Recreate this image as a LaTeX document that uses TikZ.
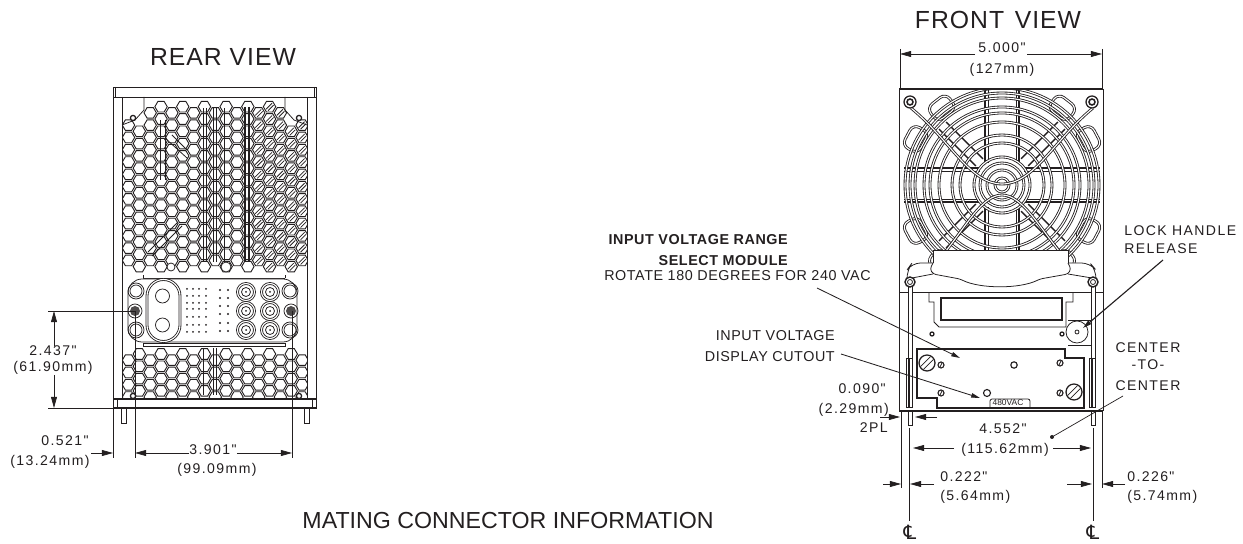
\documentclass[tikz,border=0pt]{standalone}
\usepackage{fontspec}
\setmainfont{Liberation Sans}
\newfontfamily\dimfont[LetterSpace=10]{Liberation Sans}
\newfontfamily\capfont[LetterSpace=4]{Liberation Sans}
\newfontfamily\clfont{DejaVu Sans}
\usetikzlibrary{arrows.meta}
\definecolor{ink}{HTML}{231F20}
\tikzset{
	part/.style={draw=ink, line width=0.55pt},
	heavy/.style={draw=ink, line width=1.1pt},
	ring/.style={draw=ink, line width=0.6pt, double=white, double distance=0.8pt},
	dimtext/.style={inner sep=0pt, text=ink, font=\fontsize{10}{12}\dimfont},
	notetext/.style={inner sep=0pt, text=ink, font=\fontsize{10.2}{12}\capfont},
	viewtext/.style={inner sep=0pt, text=ink, font=\fontsize{17.6}{20}\capfont},
	noteb/.style={inner sep=0pt, text=ink, font=\fontsize{10.2}{12}\bfseries\capfont},
	extline/.style={draw=ink, line width=0.5pt},
	dimarrow/.style={draw=ink, line width=0.5pt, -{Stealth[length=2.8mm,width=1.5mm,inset=0pt]}},
	leader/.style={draw=ink, line width=0.6pt, -{Stealth[length=2.2mm,width=1.1mm,inset=0pt]}},
}
\newcommand{\hexcell}[2]{\draw[draw=ink, line width=0.65pt] (#1,#2) ++(6.2,0) -- ++(-3.1,5.3) -- ++(-6.2,0) -- ++(-3.1,-5.3) -- ++(3.1,-5.3) -- ++(6.2,0) -- cycle;}
\begin{document}
\begin{tikzpicture}[x=0.25mm,y=-0.25mm]
\useasboundingbox (0,0) rectangle (1243,544);

% Rear view frame
\node[viewtext] (rearTitle) at (223,57) {REAR VIEW};
\draw[part] (113,87) rectangle (316,408);
\draw[part] (115,87) -- (115,97) (314,87) -- (314,97);
\draw[part] (113,97) -- (316,97);
\draw[part] (122,97) -- (122,399) (307,97) -- (307,399);
\draw[heavy] (113,399) -- (316,399);
\draw[heavy] (113,408) -- (316,408);
\draw[part] (117,399) -- (117,408) (312,399) -- (312,408);
\draw[part] (121,408) rectangle (126,423);
\draw[part] (304,408) rectangle (309,423);
\draw[part] (144,97) -- (144,110) -- (135,120) -- (122,125);
\draw[part] (285,97) -- (285,110) -- (294,120) -- (307,125);

% Rear grille, upper
\begin{scope}
	\clip (122,97) rectangle (307,276);
	\foreach \col in {0,...,16}
	{
		\foreach \row in {0,...,13}
		{
			\pgfmathsetmacro{\hx}{128.5+10.85*\col}
			\pgfmathsetmacro{\hy}{106.7+12.3*\row+6.15*mod(\col+1,2)}
			\pgfmathtruncatemacro{\keep}{(\hy>123 || (\hx>145 && \hx<285)) && \hy<270}
			\ifnum\keep=1
				\hexcell{\hx}{\hy}
				\ifnum\col>11
					\draw[part] (\hx-3.5,\hy+2.5) -- (\hx+2.5,\hy-3.5) (\hx-1.5,\hy+4) -- (\hx+4,\hy-1.5);
				\fi
			\fi
		}
	}
\end{scope}

% Rear grille, lower
\begin{scope}
	\clip (122,347) rectangle (307,399);
	\foreach \col in {0,...,16}
	{
		\foreach \row in {0,...,3}
		{
			\pgfmathsetmacro{\hx}{128.5+10.85*\col}
			\pgfmathsetmacro{\hy}{354+12.3*\row+6.15*mod(\col+1,2)}
			\hexcell{\hx}{\hy}
		}
	}
\end{scope}

% Rear structure showing through
\draw[part] (203,108) -- (203,262) (206,108) -- (206,262);
\draw[part] (213,108) -- (213,262) (216,108) -- (216,262) (224,108) -- (224,262);
\draw[draw=ink, line width=1.2pt] (245,107) -- (245,262) (249,107) -- (249,262);
\draw[part] (160,120) -- (160,180) (165,120) -- (165,180);
\draw[part] (165,138) -- (187,158) (172,135) -- (187,150);
\draw[part] (148,252) -- (178,222) (152,256) -- (182,226);
\draw[part] (213,348) -- (213,395) (216,348) -- (216,395);
\draw[part] (203,348) -- (203,395);
\foreach \x/\y in {133/118,299/118,133/396,299/396}
{
	\draw[draw=ink, fill=white, line width=0.9pt] (\x,\y) circle[radius=2.6];
}
\draw[part, fill=white] (226,267) circle[radius=5];
\draw[part, fill=white] (171,267) circle[radius=4];

% Rear connector panel
\draw[part] (143,278) -- (285,278) (143,278) -- (143,275) (285,278) -- (285,275);
\draw[part] (143,343) -- (285,343) (143,343) -- (143,346) -- (285,346) -- (285,343);
\draw[part, fill=white, rounded corners=10] (128,279) rectangle (297,342);
\draw[ring] (147,296) arc[radius=16.5, start angle=180, end angle=360] -- (180,325) arc[radius=16.5, start angle=0, end angle=180] -- cycle;
\foreach \y in {296,325}
{
	\draw[part] (162.5,\y) circle[radius=7];
}
\foreach \x in {187,193,199,206}
{
	\foreach \y in {289,296,303,309,317,325,332}
	{
		\fill[ink] (\x,\y) circle[radius=1];
	}
}
\foreach \x in {220,228}
{
	\foreach \y in {290,298,306,314,323,331}
	{
		\fill[ink] (\x,\y) circle[radius=1.1];
	}
}
\foreach \x in {246,270}
{
	\foreach \y in {292,311,330}
	{
		\draw[ring] (\x,\y) circle[radius=8.5];
		\draw[part] (\x,\y) circle[radius=4.5];
		\fill[ink] (\x,\y) circle[radius=1];
	}
}
\foreach \x/\y in {136/291,136/330,290/291,290/330}
{
	\draw[part] (\x,\y) circle[radius=8];
	\draw[part] (\x,\y) circle[radius=6];
}
\foreach \x in {135,291}
{
	\draw[part] (\x,311) circle[radius=7];
	\fill[ink!80] (\x,311) circle[radius=5];
}

% Rear dimensions
\coordinate (rearA) at (54,311);
\coordinate (rearB) at (54,408);
\coordinate (rearC) at (113,453);
\coordinate (rearD) at (135,453);
\coordinate (rearE) at (292,453);
\node[dimtext] (dimHeightIn) at (53,351) {2.437"};
\node[dimtext] (dimHeightMm) at (53,368) {(61.90mm)};
\node[dimtext] (dimOffsetIn) at (65,441) {0.521"};
\node[dimtext] (dimOffsetMm) at (50,462) {(13.24mm)};
\node[dimtext] (dimSpanIn) at (213,450) {3.901"};
\node[dimtext] (dimSpanMm) at (217,470) {(99.09mm)};
\draw[extline] (48,311) -- (135,311);
\draw[extline] (48,408) -- (113,408);
\draw[extline] (113,408) -- (113,458);
\draw[extline] (135,311) -- (135,458);
\draw[extline] (292,311) -- (292,458);
\draw[dimarrow] (dimHeightIn.north -| rearA) -- (rearA);
\draw[dimarrow] (dimHeightMm.south -| rearB) -- (rearB);
\draw[dimarrow] (91,453) -- (rearC);
\draw[dimarrow] (dimSpanIn.west |- rearD) -- (rearD);
\draw[dimarrow] (dimSpanIn.east |- rearE) -- (rearE);

% Mating note
\node[inner sep=0pt, text=ink, font=\fontsize{16.5}{18}\selectfont] (matingNote) at (508,521) {MATING CONNECTOR INFORMATION};

% Front view fan
\node[viewtext] (frontTitle) at (998,20) {FRONT\ \kern2pt VIEW};
\begin{scope}
	\clip (899,89) rectangle (1103,292);
	\begin{scope}[shift={(1002,185)}]
		\foreach \angle in {0,90,180,270}
		{
			\draw[draw=ink, line width=0.9pt, rotate=\angle] (22,-17) -- (98,-17) (22,17) -- (98,17);
			\draw[part, rotate=\angle] (22,-14) -- (98,-14) (22,14) -- (98,14);
		}
		\foreach \angle in {45,135,225,315}
		{
			\draw[draw=ink, line width=1pt, rotate=\angle] (32,-5) -- (84,-5) (32,5) -- (84,5);
		}
		\foreach \angle in {28,52,128,152,208,232,308,332}
		{
			\draw[ring, rounded corners=5pt, rotate=\angle] (89,-12) rectangle (107,12);
		}
		\foreach \rad in {97,92,87,78,72,63,50,42,28,22,15,7}
		{
			\draw[ring] (0,0) circle[radius=\rad];
		}
	\end{scope}
	\draw[ring] (911,108) .. controls (950,140) and (970,184) .. (1002,184) .. controls (1034,184) and (1054,140) .. (1093,108);
	\draw[ring] (945,252) .. controls (965,228) and (982,195) .. (1002,195) .. controls (1022,195) and (1040,228) .. (1060,252);
\end{scope}
\foreach \x in {910,1092}
{
	\draw[draw=ink, fill=white, line width=0.9pt] (\x,102) circle[radius=6];
	\draw[draw=ink, fill=white, line width=1.1pt] (\x,102) circle[radius=3];
}

% Front frame and handle
\fill[white, rounded corners=6] (906,263) rectangle (1096,300);
\fill[white] (933,250) rectangle (1068,278);
\draw[heavy] (899,89) -- (1103,89);
\draw[part] (899,89) -- (899,411) (1103,89) -- (1103,411);
\draw[heavy] (899,411) -- (1103,411);
\draw[part] (933,263) -- (933,250) -- (1068,250) -- (1068,263);
\draw[part, rounded corners=6] (933,263) -- (912,263) -- (907,270) -- (907,278);
\draw[part, rounded corners=6] (1068,263) -- (1090,263) -- (1096,270) -- (1096,278);
\draw[part, rounded corners=2] (933,263) -- (930,269) -- (933,274) -- (960,279) .. controls (980,289) and (1020,289) .. (1040,279) -- (1068,274) -- (1071,269) -- (1068,263);
\draw[part] (933,274) -- (912,278) (1068,274) -- (1092,278);
\draw[part] (899,292) -- (1103,292);

% Handle rods
\foreach \x in {908,1091}
{
	\draw[part, fill=white] (\x,283) rectangle (\x+4,407);
	\draw[draw=ink, line width=1pt, fill=white] (\x+2,282) circle[radius=5];
	\draw[part] (\x+2,282) circle[radius=2.5];
	\draw[part, fill=white] (\x-2,358) rectangle (\x+4,407);
	\draw[draw=ink, line width=1pt] (\x+1,358) -- (\x+1,407);
	\draw[part] (\x,411) rectangle (\x+4,425);
}

% Display window
\draw[part] (929,293) -- (929,302) -- (934,302) -- (934,322) -- (939,327) -- (1066,327) -- (1066,302) -- (1073,302) -- (1073,293);
\draw[heavy] (941,298) rectangle (1062,320);
\draw[part] (1068,320) -- (1092,320) (1068,345) -- (1092,345);
\draw[part, fill=white] (1077,332) circle[radius=11];
\draw[part] (1077,332) circle[radius=2];
\foreach \x in {932,1062}
{
	\draw[draw=ink, line width=0.9pt] (\x,334) circle[radius=2];
}

% Voltage select module
\draw[heavy] (917,349) -- (1065,349) -- (1065,358) -- (1084,358) -- (1084,408) -- (937,408) -- (937,398) -- (917,398) -- cycle;
\foreach \x/\y/\a in {927/363/45,1074/392/45}
{
	\draw[draw=ink, line width=0.9pt, fill=white] (\x,\y) circle[radius=8];
	\draw[part, rotate around={\a:(\x,\y)}] (\x-7,\y-2) -- (\x+7,\y-2) (\x-7,\y+2) -- (\x+7,\y+2);
}
\foreach \x/\y in {941/365,1060/363,941/393,1060/393}
{
	\draw[draw=ink, line width=0.8pt] (\x,\y) circle[radius=3];
	\draw[part] (\x-1,\y+2) -- (\x+1,\y-2);
}
\draw[draw=ink, line width=0.8pt] (1014,365) circle[radius=3.2];
\draw[draw=ink, line width=0.8pt] (987,393) circle[radius=3.5];
\draw[part, rounded corners=1.5] (990,408) -- (990,399) -- (1030,399) -- (1030,408);
\node[inner sep=0pt, text=ink, font=\fontsize{6}{6}\selectfont] (voltTag) at (1008,402.5) {480VAC};

% Front labels
\node[noteb, anchor=east] (noteRange) at (788,240) {INPUT VOLTAGE RANGE};
\node[noteb, anchor=east] (noteModule) at (788,261) {SELECT MODULE};
\node[notetext, anchor=west] (noteRotate) at (604,276) {ROTATE 180 DEGREES FOR 240 VAC};
\node[notetext, anchor=east] (noteInput) at (835,336) {INPUT VOLTAGE};
\node[notetext, anchor=east] (noteCutout) at (835,357) {DISPLAY CUTOUT};
\node[dimtext, anchor=west] (noteLock) at (1124,231) {LOCK HANDLE};
\node[dimtext, anchor=west] (noteRelease) at (1124,249) {RELEASE};
\node[dimtext] (noteCenterA) at (1148,348) {CENTER};
\node[dimtext] (noteCenterB) at (1148,365) {-TO-};
\node[dimtext] (noteCenterC) at (1148,386) {CENTER};
\coordinate (tipModule) at (960,358);
\coordinate (tipCutout) at (980,398);
\coordinate (tipKnob) at (1083,328);
\fill[ink] (1052,437) coordinate (dotCenter) circle[radius=2];
\draw[leader] (817,288) -- (tipModule);
\draw[leader] (841,354) -- (tipCutout);
\draw[leader, line width=0.8pt] (1163,260) -- (tipKnob);
\draw[extline] (1123,396) -- (dotCenter);

% Front dimensions
\node[dimtext] (dimWidthIn) at (1002,48) {5.000"};
\node[dimtext] (dimWidthMm) at (1002,70) {(127mm)};
\node[dimtext, anchor=east] (dimPinIn) at (886,389) {0.090"};
\node[dimtext, anchor=east] (dimPinMm) at (889,410) {(2.29mm)};
\node[dimtext, anchor=east] (dimPinPl) at (888,428) {2PL};
\node[dimtext] (dimCenterIn) at (1003,429) {4.552"};
\node[dimtext] (dimCenterMm) at (1005,450) {(115.62mm)};
\node[dimtext, anchor=west] (dimLeftIn) at (940,477) {0.222"};
\node[dimtext, anchor=west] (dimLeftMm) at (940,497) {(5.64mm)};
\node[dimtext, anchor=west] (dimRightIn) at (1127,477) {0.226"};
\node[dimtext, anchor=west] (dimRightMm) at (1127,497) {(5.74mm)};
\node[inner sep=0pt, text=ink, font=\fontsize{14}{14}\clfont] (centerA) at (910,532) {℄};
\node[inner sep=0pt, text=ink, font=\fontsize{14}{14}\clfont] (centerB) at (1093,532) {℄};
\draw[extline] (900,49) -- (900,89) (1102,49) -- (1102,89);
\draw[extline] (901,411) -- (901,488) (1102,411) -- (1102,488);
\draw[extline] (909,428) -- (909,521);
\draw[extline] (1093,428) -- (1093,521);
\draw[dimarrow] (975,54) -- (900,54);
\draw[dimarrow] (1027,54) -- (1102,54);
\draw[dimarrow] (880,417) -- (900,417);
\draw[dimarrow] (937,417) -- (915,417);
\draw[dimarrow] (954,448) -- (913,448);
\draw[dimarrow] (1053,448) -- (1091,448);
\draw[dimarrow] (883,484) -- (901,484);
\draw[dimarrow] (934,484) -- (910,484);
\draw[dimarrow] (1067,484) -- (1092,484);
\draw[dimarrow] (1125,484) -- (1102,484);

\end{tikzpicture}
\end{document}
